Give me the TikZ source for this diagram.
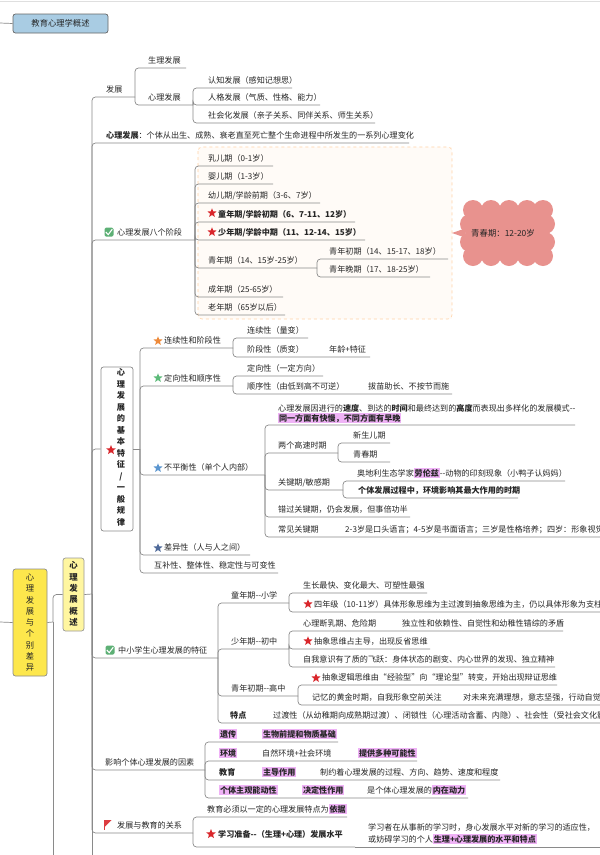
\documentclass[tikz,border=0pt]{standalone}
\usepackage{fontspec}
\setmainfont{Noto Sans CJK SC}
\usetikzlibrary{shapes.geometric}
\definecolor{lc}{HTML}{8A8A8A}
\definecolor{tc}{HTML}{262626}
\definecolor{hlc}{HTML}{EFB2F6}
\definecolor{sred}{HTML}{D9262B}
\definecolor{sorg}{HTML}{EE8A3A}
\definecolor{sgrn}{HTML}{5DBB7A}
\definecolor{sblu}{HTML}{5B96D0}
\definecolor{sdbl}{HTML}{4F6A9A}
\definecolor{ckc}{HTML}{5DB075}
\definecolor{cloudc}{HTML}{E8928E}
\definecolor{topc}{HTML}{A9CCE3}
\definecolor{ylw}{HTML}{FDE74C}
\definecolor{pyl}{HTML}{FFF6A0}
\newcommand\fs{\fontsize{8.1}{10}\selectfont}
\newcommand\hlt[1]{{\setlength\fboxsep{0.8pt}\colorbox{hlc}{#1}}}
\newcommand\dd{-{}-}
\begin{document}
\begin{tikzpicture}[x=1pt,y=-1pt,
  txt/.style={anchor=base west, inner sep=0pt, text=tc, font=\fs},
  conn/.style={draw=lc, line width=0.7pt, rounded corners=3.5pt},
  starshape/.style={star, star points=5, star point ratio=2.3, inner sep=0pt, minimum size=9.5pt, draw=none, fill=#1},
  chk/.style={rectangle, rounded corners=1.5pt, fill=ckc, minimum size=9pt, inner sep=0pt},
  vbox/.style={draw=#1, rounded corners=2.5pt, line width=0.7pt, inner sep=0pt}]
\useasboundingbox (0,0) rectangle (600,855);
\fill[white] (0,0) rectangle (600,855);
\draw[gray!25, line width=0.8pt] (0,1) -- (600,1);

% ---------- top box ----------
\coordinate (lft) at (0,23);
\node[vbox=black!60, fill=topc, minimum width=95pt, minimum height=19pt, font=\fontsize{8.3}{10}\selectfont, text=tc] (top) at (60.5,23.5) {教育心理学概述};
\draw[conn] (lft) -- (top.west);

% ---------- main boxes ----------
\coordinate (lft2) at (0,622);
\node[vbox=black!45, fill=ylw, minimum width=34pt, minimum height=107pt] (b1) at (30,622.5) {};
\node[align=center, inner sep=0pt, text=tc, font=\fontsize{8.3}{11.25}\selectfont] (b1t) at (30,622.5) {心\\理\\发\\展\\与\\个\\别\\差\\异};
\draw[conn] (lft2) -- (b1.west);
\coordinate (j1) at (53,622);
\coordinate (j1b) at (53,870);
\node[vbox=black!40, fill=pyl, minimum width=21pt, minimum height=73pt] (b2) at (73.5,594.5) {};
\node[align=center, inner sep=0pt, text=tc, font=\fontsize{8.4}{11.4}\selectfont\bfseries] (b2t) at (73.5,594) {心\\理\\发\\展\\概\\述};
\draw[conn] (b1.east) -- (j1);
\draw[conn] (j1) |- (b2.west);
\draw[conn] (j1) -- (j1b);
\coordinate (j2) at (92,594);
\coordinate (j2b) at (92,870);
\draw[conn] (b2.east) -- (j2);
\draw[conn] (j2) -- (j2b);

% ---------- 发展 ----------
\node[txt] (fz) at (106,92) {发展};
\coordinate (fz-e) at (135,97);
\draw[conn] (j2) |- (fz-e);
\node[txt] (sl) at (148,63) {生理发展};
\coordinate (sl-e) at (186,68);
\draw[conn] (fz-e) |- (sl-e);
\node[txt] (xl) at (148,100) {心理发展};
\coordinate (xl-e) at (193,105);
\draw[conn] (fz-e) |- (xl-e);
\node[txt] (rz) at (208,83) {认知发展（感知记想思）};
\coordinate (rz-e) at (292,88);
\draw[conn] (xl-e) |- (rz-e);
\node[txt] (rg) at (208,100) {人格发展（气质、性格、能力）};
\coordinate (rg-e) at (320,105);
\draw[conn] (xl-e) |- (rg-e);
\node[txt] (sh) at (208,118) {社会化发展（亲子关系、同伴关系、师生关系）};
\coordinate (sh-e) at (375,123);
\draw[conn] (xl-e) |- (sh-e);

% ---------- 定义 ----------
\node[txt] (def) at (106,138) {\textbf{心理发展}：个体从出生、成熟、衰老直至死亡整个生命进程中所发生的一系列心理变化};
\coordinate (def-e) at (409,143);
\draw[conn] (j2) |- (def-e);

% ---------- 八个阶段 ----------
\fill[fill=orange!3] (198,147) rectangle (452,319);
\draw[draw=orange!35, dashed, line width=0.6pt, rounded corners=4pt] (198,147) rectangle (452,319);
\node[chk] (ck1) at (109,232) {};
\draw[white, line width=1.1pt] (105.8,232) -- (108.2,234.6) -- (112.3,229.2);
\node[txt] (jd) at (117,235) {心理发展八个阶段};
\coordinate (jd-e) at (195,240);
\draw[conn] (j2) |- (jd-e);
\node[txt] (ru) at (208,161) {乳儿期（0-1岁）};
\coordinate (ru-e) at (273,166);
\draw[conn] (jd-e) |- (ru-e);
\node[txt] (ying) at (208,179) {婴儿期（1-3岁）};
\coordinate (ying-e) at (273,184);
\draw[conn] (jd-e) |- (ying-e);
\node[txt] (you) at (208,198) {幼儿期/学龄前期（3-6、7岁）};
\coordinate (you-e) at (320,203);
\draw[conn] (jd-e) |- (you-e);
\node[starshape=sred] (st1) at (212,213) {};
\node[txt] (tong) at (218,217) {\bfseries 童年期/学龄初期（6、7-11、12岁）};
\coordinate (tong-e) at (355,222);
\draw[conn] (jd-e) |- (tong-e);
\node[starshape=sred] (st2) at (212,232) {};
\node[txt] (shao) at (218,235) {\bfseries 少年期/学龄中期（11、12-14、15岁）};
\coordinate (shao-e) at (365,240);
\draw[conn] (jd-e) |- (shao-e);
\node[txt] (qing) at (208,263) {青年期（14、15岁-25岁）};
\coordinate (qing-e) at (317,268);
\draw[conn] (jd-e) |- (qing-e);
\node[txt] (qc) at (329,254) {青年初期（14、15-17、18岁）};
\coordinate (qc-e) at (448,259);
\draw[conn] (qing-e) |- (qc-e);
\node[txt] (qw) at (329,272) {青年晚期（17、18-25岁）};
\coordinate (qw-e) at (430,277);
\draw[conn] (qing-e) |- (qw-e);
\node[txt] (cheng) at (208,292) {成年期（25-65岁）};
\coordinate (cheng-e) at (283,297);
\draw[conn] (jd-e) |- (cheng-e);
\node[txt] (lao) at (208,310) {老年期（65岁以后）};
\coordinate (lao-e) at (285,315);
\draw[conn] (jd-e) |- (lao-e);

% cloud
\fill[cloudc] (452,233) -- (465,228.5) -- (465,237.5) -- cycle;
\fill[cloudc] (470,210) rectangle (545,256);
\foreach \xx in {473,491,509,527,543} {
  \fill[cloudc] (\xx,210) circle[radius=10pt];
  \fill[cloudc] (\xx,256) circle[radius=10pt];
}
\foreach \yy in {224,242} {
  \fill[cloudc] (470,\yy) circle[radius=10pt];
  \fill[cloudc] (545,\yy) circle[radius=10pt];
}
\node[inner sep=0pt, text=tc, font=\fontsize{8.4}{10}\selectfont] (cl) at (503,233) {青春期：12-20岁};

% ---------- 基本特征 ----------
\node[vbox=black!45, fill=white, minimum width=32pt, minimum height=164pt] (b3) at (117,449) {};
\node[align=center, inner sep=0pt, text=tc, font=\fontsize{8.2}{11.5}\selectfont\bfseries] (b3t) at (121,447.5) {心\\理\\发\\展\\的\\基\\本\\特\\征\\/\\一\\般\\规\\律};
\node[starshape=sred, minimum size=10pt] (st3) at (111,450) {};
\draw[conn] (j2) |- (b3.west);
\coordinate (j3) at (140,449);
\draw[conn] (b3.east) -- (j3);

\node[starshape=sorg] (st4) at (158,341) {};
\node[txt] (lx) at (164,343) {连续性和阶段性};
\coordinate (lx-e) at (233,348);
\draw[conn] (j3) |- (lx-e);
\node[txt] (lx1) at (247,333) {连续性（量变）};
\coordinate (lx1-e) at (308,338);
\draw[conn] (lx-e) |- (lx1-e);
\node[txt] (lx2) at (247,352) {阶段性（质变）};
\node[txt] (lx3) at (329,352) {年龄+特征};
\coordinate (lx2-e) at (370,357);
\draw[conn] (lx-e) |- (lx2-e);

\node[starshape=sgrn] (st5) at (158,378) {};
\node[txt] (dx) at (164,381) {定向性和顺序性};
\coordinate (dx-e) at (233,386);
\draw[conn] (j3) |- (dx-e);
\node[txt] (dx1) at (247,371) {定向性（一定方向）};
\coordinate (dx1-e) at (323,376);
\draw[conn] (dx-e) |- (dx1-e);
\node[txt] (dx2) at (247,389) {顺序性（由低到高不可逆）};
\node[txt] (dx3) at (368,389) {拔苗助长、不按节而施};
\coordinate (dx2-e) at (452,394);
\draw[conn] (dx-e) |- (dx2-e);

\node[starshape=sblu] (st6) at (158,468) {};
\node[txt] (bp) at (164,470) {不平衡性（单个人内部）};
\coordinate (bp-e) at (265,475);
\draw[conn] (j3) |- (bp-e);
\node[txt] (bp1a) at (278,411) {心理发展因进行的\textbf{速度}、到达的\textbf{时间}和最终达到的\textbf{高度}而表现出多样化的发展模式\dd};
\node[txt] (bp1b) at (278,421) {\hlt{\bfseries 同一方面有快慢，不同方面有早晚}};
\coordinate (bp1-e) at (575,425);
\draw[conn] (bp-e) |- (bp1-e);
\node[txt] (bp2) at (278,448) {两个高速时期};
\coordinate (bp2-e) at (338,453);
\draw[conn] (bp-e) |- (bp2-e);
\node[txt] (xs) at (353,438) {新生儿期};
\coordinate (xs-e) at (390,443);
\draw[conn] (bp2-e) |- (xs-e);
\node[txt] (qcq) at (353,457) {青春期};
\coordinate (qcq-e) at (390,462);
\draw[conn] (bp2-e) |- (qcq-e);
\node[txt] (bp3) at (278,485) {关键期/敏感期};
\coordinate (bp3-e) at (343,490);
\draw[conn] (bp-e) |- (bp3-e);
\node[txt] (ad) at (357,476) {奥地利生态学家\hlt{\bfseries 劳伦兹}\dd 动物的印刻现象（小鸭子认妈妈）};
\coordinate (ad-e) at (565,481);
\draw[conn] (bp3-e) |- (ad-e);
\node[txt] (gt) at (358,493) {\bfseries 个体发展过程中，环境影响其最大作用的时期};
\coordinate (gt-e) at (518,498);
\draw[conn] (bp3-e) |- (gt-e);
\node[txt] (bp4) at (278,512) {错过关键期，仍会发展，但事倍功半};
\coordinate (bp4-e) at (410,517);
\draw[conn] (bp-e) |- (bp4-e);
\node[txt] (bp5) at (278,532) {常见关键期};
\node[txt] (bp6) at (345,532) {2-3岁是口头语言；4-5岁是书面语言；三岁是性格培养；四岁：形象视觉};
\coordinate (bp5-e) at (640,537);
\draw[conn] (bp-e) |- (bp5-e);

\node[starshape=sdbl] (st7) at (158,548) {};
\node[txt] (cy) at (164,550) {差异性（人与人之间）};
\coordinate (cy-e) at (250,555);
\draw[conn] (j3) |- (cy-e);
\node[txt] (hb) at (154,568) {互补性、整体性、稳定性与可变性};
\coordinate (hb-e) at (278,573);
\draw[conn] (j3) |- (hb-e);

% ---------- 中小学生 ----------
\node[chk] (ck2) at (110,650) {};
\draw[white, line width=1.1pt] (106.8,650) -- (109.2,652.6) -- (113.3,647.2);
\node[txt] (zx) at (118,653) {中小学生心理发展的特征};
\coordinate (zx-e) at (218,658);
\draw[conn] (j2) |- (zx-e);

\node[txt] (tn) at (231,598) {童年期\dd 小学};
\coordinate (tn-e) at (289,603);
\draw[conn] (zx-e) |- (tn-e);
\node[txt] (tn1) at (303,588) {生长最快、变化最大、可塑性最强};
\coordinate (tn1-e) at (427,593);
\draw[conn] (tn-e) |- (tn1-e);
\node[starshape=sred] (st8) at (308,604) {};
\node[txt] (tn2) at (314,607) {四年级（10-11岁）具体形象思维为主过渡到抽象思维为主，仍以具体形象为支柱};
\coordinate (tn2-e) at (660,612);
\draw[conn] (tn-e) |- (tn2-e);

\node[txt] (sn) at (231,644) {少年期\dd 初中};
\coordinate (sn-e) at (289,649);
\draw[conn] (zx-e) |- (sn-e);
\node[txt] (sn1) at (303,626) {心理断乳期、危险期};
\node[txt] (sn1b) at (402,626) {独立性和依赖性、自觉性和幼稚性错综的矛盾};
\coordinate (sn1-e) at (563,631);
\draw[conn] (sn-e) |- (sn1-e);
\node[starshape=sred] (st9) at (308,641) {};
\node[txt] (sn2) at (314,644) {抽象思维占主导，出现反省思维};
\coordinate (sn2-e) at (430,649);
\draw[conn] (sn-e) |- (sn2-e);
\node[txt] (sn3) at (303,662) {自我意识有了质的飞跃：身体状态的剧变、内心世界的发现、独立精神};
\coordinate (sn3-e) at (555,667);
\draw[conn] (sn-e) |- (sn3-e);

\node[txt] (qn) at (231,691) {青年初期\dd 高中};
\coordinate (qn-e) at (298,696);
\draw[conn] (zx-e) |- (qn-e);
\node[starshape=sred] (st10) at (316,678) {};
\node[txt] (qn1) at (322,680) {抽象逻辑思维由“经验型”向“理论型”转变，开始出现辩证思维};
\coordinate (qn1-e) at (557,685);
\draw[conn] (qn-e) |- (qn1-e);
\node[txt] (qn2) at (312,700) {记忆的黄金时期，自我形象空前关注};
\node[txt] (qn2b) at (463,700) {对未来充满理想，意志坚强，行动自觉};
\coordinate (qn2-e) at (660,705);
\draw[conn] (qn-e) |- (qn2-e);

\node[txt] (td) at (230,718) {\bfseries 特点};
\node[txt] (td1) at (273,718) {过渡性（从幼稚期向成熟期过渡）、闭锁性（心理活动含蓄、内隐）、社会性（受社会文化影响）};
\coordinate (td-e) at (700,723);
\draw[conn] (zx-e) |- (td-e);

% ---------- 影响因素 ----------
\node[txt] (yx) at (105,765) {影响个体心理发展的因素};
\coordinate (yx-e) at (205,770);
\draw[conn] (j2) |- (yx-e);
\node[txt] (yc) at (219,737) {\hlt{\bfseries 遗传}};
\node[txt] (yc2) at (262,737) {\hlt{\bfseries 生物前提和物质基础}};
\coordinate (yc-e) at (338,742);
\draw[conn] (yx-e) |- (yc-e);
\node[txt] (hj) at (219,756) {\hlt{\bfseries 环境}};
\node[txt] (hj2) at (262,756) {自然环境+社会环境};
\node[txt] (hj3) at (358,756) {\hlt{\bfseries 提供多种可能性}};
\coordinate (hj-e) at (417,761);
\draw[conn] (yx-e) |- (hj-e);
\node[txt] (jy) at (219,775) {\bfseries 教育};
\node[txt] (jy2) at (262,775) {\hlt{\bfseries 主导作用}};
\node[txt] (jy3) at (320,775) {制约着心理发展的过程、方向、趋势、速度和程度};
\coordinate (jy-e) at (500,780);
\draw[conn] (yx-e) |- (jy-e);
\node[txt] (gr) at (219,793) {\hlt{\bfseries 个体主观能动性}};
\node[txt] (gr2) at (302,793) {\hlt{\bfseries 决定性作用}};
\node[txt] (gr3) at (367,793) {是个体心理发展的\hlt{\bfseries 内在动力}};
\coordinate (gr-e) at (468,798);
\draw[conn] (yx-e) |- (gr-e);

% ---------- 发展与教育 ----------
\draw[sred!90, line width=0.8pt] (104.5,820) -- (104.5,830);
\fill[sred!90] (104.5,820) -- (111.5,820) -- (104.5,827) -- cycle;
\node[txt] (gx) at (117,828) {发展与教育的关系};
\coordinate (gx-e) at (193,833);
\draw[conn] (j2) |- (gx-e);
\node[txt] (ja) at (207,812) {教育必须以一定的心理发展特点为\hlt{\bfseries 依据}};
\coordinate (ja-e) at (347,817);
\draw[conn] (gx-e) |- (ja-e);
\node[starshape=sred, minimum size=10pt] (st11) at (211,834) {};
\node[txt] (xz) at (218,837) {\bfseries 学习准备\dd（生理+心理）发展水平};
\coordinate (xz-e) at (355,847);
\draw[conn] (gx-e) |- (xz-e);
\node[txt] (xz1) at (368,830) {学习者在从事新的学习时，身心发展水平对新的学习的适应性，};
\node[txt] (xz2) at (368,842) {或妨碍学习的个人\hlt{\bfseries 生理+心理发展的水平和特点}};
\coordinate (xz1-e) at (660,847);
\draw[conn] (xz-e) -- (xz1-e);
\end{tikzpicture}
\end{document}
